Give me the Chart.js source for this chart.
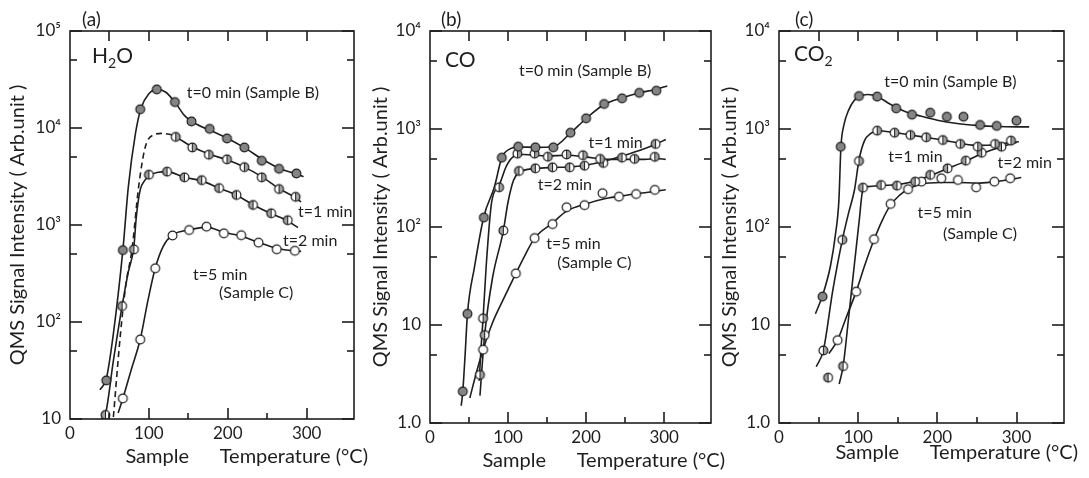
<!DOCTYPE html>
<html>
<head>
<meta charset="utf-8">
<title>QMS signal intensity vs sample temperature</title>
<script src="https://cdn.jsdelivr.net/npm/chart.js@4.4.0/dist/chart.umd.min.js"></script>
<style>
    html, body { margin: 0; padding: 0; background: #fff; }
    #wrap { position: relative; width: 1089px; height: 478px; overflow: hidden; }
    canvas { position: absolute; top: 0; }
</style>
</head>
<body>
<div id="wrap">
    <canvas id="chartA" width="380" height="478" style="left:0px"></canvas>
    <canvas id="chartB" width="372" height="478" style="left:363px"></canvas>
    <canvas id="chartC" width="377" height="478" style="left:712px"></canvas>
</div>
<script>
// ===== Data: [sample temperature (°C), QMS signal (arb. unit)] =====

// (a) H2O - measured points
const h2oPts0 = [[46,25],[67,550],[89,15600],[110,25000],[133,18500],[154,11700],[177,9800],[199,7800],[221,6300],[243,4600],[265,3800],[287,3400]];
const h2oPts1 = [[134,8100],[155,6300],[176,5300],[199,4750],[221,3950],[243,3100],[265,2350],[286,1950]];
const h2oPts2 = [[45,11],[66,146],[81,560],[100,3300],[123,3550],[145,3100],[167,2900],[189,2400],[211,2040],[232,1610],[255,1320],[276,1120]];
const h2oPts5 = [[67,16.3],[89,66],[108,358],[130,780],[151,888],[173,962],[195,820],[217,785],[239,658],[262,562],[285,542]];
// (a) H2O - fitted curves
const h2oCurve0 = [[38,20],[46,26],[55,76],[67,550],[74,2500],[83,8800],[90,16000],[100,22500],[110,25000],[121,23500],[133,18500],[145,13500],[160,11000],[180,9300],[200,7800],[222,6200],[245,4700],[265,3850],[287,3350],[296,3150]];
const h2oCurve1Dash = [[55,10.5],[64,76],[71,250],[78.5,552],[87,2480],[95.5,6400],[106,8500],[116,8800],[127,8600]];
const h2oCurve1 = [[127,8600],[134,8100],[155,6400],[177,5350],[199,4700],[221,3950],[243,3150],[264,2400],[285,1930],[293,1730]];
const h2oCurve2 = [[40,10],[45,11.3],[55,40],[66,146],[74,330],[81,600],[84,1200],[89,2300],[95,2900],[101,3250],[112,3500],[123,3550],[145,3100],[167,2850],[189,2400],[211,2030],[232,1620],[254,1320],[276,1100],[289,940]];
const h2oCurve5 = [[61,11.5],[67,16.3],[78,33],[89,66],[99,170],[108,358],[118,600],[130,790],[151,890],[173,950],[195,840],[217,770],[239,660],[262,575],[284,540],[293,535]];

// (b) CO - measured points
const coPts0 = [[42,2.1],[48,13],[69,125],[92,510],[113,660],[135,650],[158,650],[180,916],[200,1285],[223,1800],[246,2055],[268,2340],[290,2460]];
const coPts1 = [[64,3.1],[68,11.7],[88.5,254],[112,560],[134,560],[151,521],[175,550],[196,540],[218,495],[262,495],[288,520]];
const coPts2 = [[70,7.9],[94,92],[114,373],[135,397],[157,406],[179,406],[198,422],[222,450],[246,510],[289,703]];
const coPts5 = [[68,5.6],[110,33.6],[134,77],[157,107],[175,159],[198,167],[221,221],[242,204],[264,217],[288,239]];
// (b) CO - fitted curves
const coCurve0 = [[40,1.5],[42,2.1],[45,5],[48,13],[57,39],[69,128],[82.6,258],[92,510],[103,630],[113,655],[135,650],[158,660],[180,910],[200,1280],[223,1780],[246,2080],[268,2330],[290,2550],[304,2750]];
const coCurve1 = [[63,2.7],[65.5,6],[68,11.7],[72,40],[79,180],[88.5,265],[98,420],[108,530],[120,550],[150,530],[175,540],[200,520],[225,490],[250,490],[275,490],[290,500],[302,490]];
const coCurve2 = [[64,1.9],[70,7.9],[80,30],[94,92],[100,180],[107,300],[114,360],[135,395],[157,405],[179,410],[198,425],[222,465],[246,530],[270,610],[289,700],[302,780]];
const coCurve5 = [[51,1.8],[60,3.4],[68,5.6],[80,10.5],[95,19],[110,33.6],[122,52],[134,77],[157,110],[175,145],[200,172],[225,195],[250,210],[275,224],[302,240]];

// (c) CO2 - measured points
const co2Pts0 = [[55,19.5],[78,659],[101,2170],[124,2140],[148,1625],[168,1400],[191,1467],[212,1335],[233,1335],[254,1100],[275,1075],[300,1216]];
const co2Pts1 = [[56,5.5],[80,74],[101,471],[124,962],[146,917],[166,868],[186,823],[207,772],[229,703],[251,660],[273,703],[293,760]];
const co2Pts2 = [[62,2.9],[81,3.8],[106,252],[129,268],[149,264],[172,290],[191,340],[213,397],[236,475],[256,572],[281,659]];
const co2Pts5 = [[74,7],[97.5,21.9],[120,75],[141,172],[163,243],[180,290],[205,314],[226,302],[249,254],[272,290],[292,314]];
// (c) CO2 - fitted curves
const co2Curve0 = [[46,13],[55,20],[65,40],[71.5,86],[75.7,189],[78.2,650],[82,1100],[88,1560],[95,1950],[101,2130],[112,2250],[124,2150],[140,1800],[160,1500],[180,1350],[200,1230],[225,1140],[250,1090],[275,1060],[300,1050],[316,1050]];
const co2Curve1 = [[47,3.75],[56,5.5],[68,22.7],[80,74],[88,140],[95.4,240],[101,480],[108,760],[116,900],[124,960],[146,920],[166,870],[186,820],[207,770],[229,715],[251,680],[273,690],[293,730],[303,740]];
const co2Curve2 = [[76,2.5],[81,3.8],[88,12],[95,40],[101,110],[106,240],[112,258],[129,265],[149,270],[172,295],[191,335],[213,395],[236,470],[256,560],[281,660],[300,730]];
const co2Curve5 = [[63,5.1],[74,7],[85,12],[97.5,21.9],[108,40],[120,74],[130,115],[141,168],[152,210],[163,243],[180,275],[204,285],[226,285],[250,280],[272,290],[292,305],[306,320]];

// axis ticks
const xTicks = [0, 100, 200, 300];
const xMinorTicks = [50, 100, 150, 200, 250, 300];
const decadesA = [10, 100, 1000, 10000, 100000];
const decadesBC = [1, 10, 100, 1000, 10000];

const INK = '#1e1e1e';
const FONT = "Lato, 'DejaVu Sans', sans-serif";
Chart.defaults.font.family = FONT;
Chart.defaults.color = INK;

// marker glyphs: filled, half filled, open
function markerCanvas(kind) {
    const c = document.createElement('canvas');
    c.width = c.height = 13;
    const g = c.getContext('2d');
    const r = 4.4, cx = 6.5, cy = 6.5;
    g.beginPath();
    g.arc(cx, cy, r, 0, Math.PI * 2);
    g.fillStyle = kind === 'full' ? '#858585' : '#fff';
    g.fill();
    if (kind === 'right' || kind === 'left') {
        const a0 = kind === 'right' ? -Math.PI / 2 : Math.PI / 2;
        g.beginPath();
        g.arc(cx, cy, r, a0, a0 + Math.PI);
        g.closePath();
        g.fillStyle = '#a0a0a0';
        g.fill();
        g.beginPath();
        g.moveTo(cx, cy - r);
        g.lineTo(cx, cy + r);
        g.lineWidth = 1;
        g.strokeStyle = INK;
        g.stroke();
    }
    g.beginPath();
    g.arc(cx, cy, r, 0, Math.PI * 2);
    g.lineWidth = 1.2;
    g.strokeStyle = INK;
    g.stroke();
    return c;
}
const MARK = {
    t0: markerCanvas('full'),
    t1: markerCanvas('right'),
    t2: markerCanvas('left'),
    t5: markerCanvas('open')
};

const toXY = pts => pts.map(p => ({ x: p[0], y: p[1] }));

function curve(pts, dash) {
    return {
        data: toXY(pts),
        showLine: true,
        borderColor: INK,
        borderWidth: 1.6,
        borderDash: dash || [],
        pointRadius: 0,
        cubicInterpolationMode: 'monotone',
        order: 2
    };
}

function marks(pts, style) {
    return {
        data: toXY(pts),
        showLine: false,
        pointStyle: style,
        pointRadius: 5,
        order: 1
    };
}

const supDigits = { 2: '\u00b2', 3: '\u00b3', 4: '\u2074', 5: '\u2075' };
function yLabel(v) {
    const e = Math.round(Math.log10(v));
    if (e === 0) return '1.0';
    if (e === 1) return '10';
    return '10' + supDigits[e];
}

// frame, inward ticks, panel letters and curve labels
const decor = {
    id: 'decor',
    afterDraw(chart, args, o) {
        const { ctx, chartArea: a, scales: { x, y } } = chart;
        ctx.save();
        ctx.setLineDash([]);
        ctx.strokeStyle = INK;
        ctx.lineWidth = 1.6;
        ctx.strokeRect(a.left, a.top, a.right - a.left, a.bottom - a.top);

        // inward tick marks as thin filled bars
        ctx.fillStyle = INK;
        for (const t of xMinorTicks) {
            const px = Math.round(x.getPixelForValue(t));
            const len = t % 100 === 0 ? 11 : 6;
            ctx.fillRect(px - 0.8, a.bottom - len, 1.6, len);
            ctx.fillRect(px - 0.8, a.top, 1.6, 10);
        }
        const decs = o.decades;
        for (const v of decs) {
            const py = Math.round(y.getPixelForValue(v));
            ctx.fillRect(a.left, py - 0.8, 12, 1.6);
            ctx.fillRect(a.right - 12, py - 0.8, 12, 1.6);
            if (v < decs[decs.length - 1]) {
                const pm = Math.round(y.getPixelForValue(v * 5));
                ctx.fillRect(a.left, pm - 0.8, 7, 1.6);
                ctx.fillRect(a.right - 7, pm - 0.8, 7, 1.6);
            }
        }

        ctx.textBaseline = 'middle';
        ctx.textAlign = 'left';
        ctx.font = '19px ' + FONT;
        ctx.fillText(o.letter, a.left + o.letterDx, 20);

        // species name with subscript
        let px = a.left + o.speciesDx;
        ctx.textBaseline = 'alphabetic';
        for (const [s, sub] of o.species) {
            ctx.font = (sub ? '14px ' : '21px ') + FONT;
            ctx.fillText(s, px, o.speciesY + (sub ? 5 : 0));
            px += ctx.measureText(s).width;
        }

        ctx.font = '16px ' + FONT;
        ctx.textBaseline = 'middle';
        for (const n of o.notes) {
            ctx.fillText(n.text, x.getPixelForValue(n.x), y.getPixelForValue(n.y));
        }

        ctx.font = '20px ' + FONT;
        ctx.textAlign = 'right';
        ctx.fillText('Sample      Temperature (\u00b0C)', a.right + 14, a.bottom + o.xTitleDy);
        ctx.restore();
    }
};

function buildPanel(id, cfg) {
    new Chart(document.getElementById(id), {
        type: 'scatter',
        data: { datasets: cfg.datasets },
        options: {
            responsive: false,
            animation: false,
            layout: { padding: { left: 0, top: 31, right: cfg.padRight, bottom: 0 } },
            plugins: {
                legend: { display: false },
                tooltip: { enabled: false },
                decor: Object.assign({ decades: cfg.decades }, cfg.decor)
            },
            scales: {
                x: {
                    type: 'linear',
                    min: 0,
                    max: 360,
                    afterBuildTicks: s => { s.ticks = xTicks.map(v => ({ value: v })); },
                    afterFit: s => { s.height = cfg.xHeight; },
                    grid: { display: false, drawTicks: false },
                    border: { display: false },
                    ticks: { padding: 4, font: { size: 17 }, color: INK }
                },
                y: {
                    type: 'logarithmic',
                    min: cfg.decades[0],
                    max: cfg.decades[cfg.decades.length - 1],
                    afterBuildTicks: s => { s.ticks = cfg.decades.map(v => ({ value: v })); },
                    afterFit: s => { s.width = cfg.yWidth; },
                    grid: { display: false, drawTicks: false },
                    border: { display: false },
                    ticks: { padding: 9, font: { size: 17 }, color: INK, callback: v => yLabel(v) },
                    title: {
                        display: true,
                        text: 'QMS Signal Intensity ( Arb.unit )',
                        font: { size: 20 },
                        color: INK,
                        padding: { top: 6, bottom: 0 }
                    }
                }
            }
        },
        plugins: [decor]
    });
}

buildPanel('chartA', {
    yWidth: 70, padRight: 26, xHeight: 59, decades: decadesA,
    datasets: [
        marks(h2oPts0, MARK.t0), marks(h2oPts1, MARK.t1), marks(h2oPts2, MARK.t2), marks(h2oPts5, MARK.t5),
        curve(h2oCurve0), curve(h2oCurve1Dash, [6, 4]), curve(h2oCurve1), curve(h2oCurve2), curve(h2oCurve5)
    ],
    decor: {
        letter: '(a)', letterDx: 12,
        species: [['H', false], ['2', true], ['O', false]], speciesDx: 22, speciesY: 63,
        xTitleDy: 38,
        notes: [
            { text: 't=0 min (Sample B)', x: 148, y: 23100 },
            { text: 't=1 min', x: 289, y: 1370 },
            { text: 't=2 min', x: 270, y: 690 },
            { text: 't=5 min', x: 156, y: 305 },
            { text: '(Sample C)', x: 189, y: 198 }
        ]
    }
});

buildPanel('chartB', {
    yWidth: 67, padRight: 24, xHeight: 55, decades: decadesBC,
    datasets: [
        marks(coPts0, MARK.t0), marks(coPts1, MARK.t1), marks(coPts2, MARK.t2), marks(coPts5, MARK.t5),
        curve(coCurve0), curve(coCurve1), curve(coCurve2), curve(coCurve5)
    ],
    decor: {
        letter: '(b)', letterDx: 11,
        species: [['CO', false]], speciesDx: 15, speciesY: 67,
        xTitleDy: 38,
        notes: [
            { text: 't=0 min (Sample B)', x: 114, y: 3900 },
            { text: 't=1 min', x: 203, y: 714 },
            { text: 't=2 min', x: 138, y: 268 },
            { text: 't=5 min', x: 149, y: 67 },
            { text: '(Sample C)', x: 163, y: 42.6 }
        ]
    }
});

buildPanel('chartC', {
    yWidth: 67, padRight: 25, xHeight: 55, decades: decadesBC,
    datasets: [
        marks(co2Pts0, MARK.t0), marks(co2Pts1, MARK.t1), marks(co2Pts2, MARK.t2), marks(co2Pts5, MARK.t5),
        curve(co2Curve0), curve(co2Curve1), curve(co2Curve2), curve(co2Curve5)
    ],
    decor: {
        letter: '(c)', letterDx: 16,
        species: [['CO', false], ['2', true]], speciesDx: 15, speciesY: 61,
        xTitleDy: 30,
        notes: [
            { text: 't=0 min (Sample B)', x: 133, y: 3040 },
            { text: 't=1 min', x: 138, y: 521 },
            { text: 't=2 min', x: 276, y: 447 },
            { text: 't=5 min', x: 175, y: 138 },
            { text: '(Sample C)', x: 207, y: 86 }
        ]
    }
});
</script>
</body>
</html>
